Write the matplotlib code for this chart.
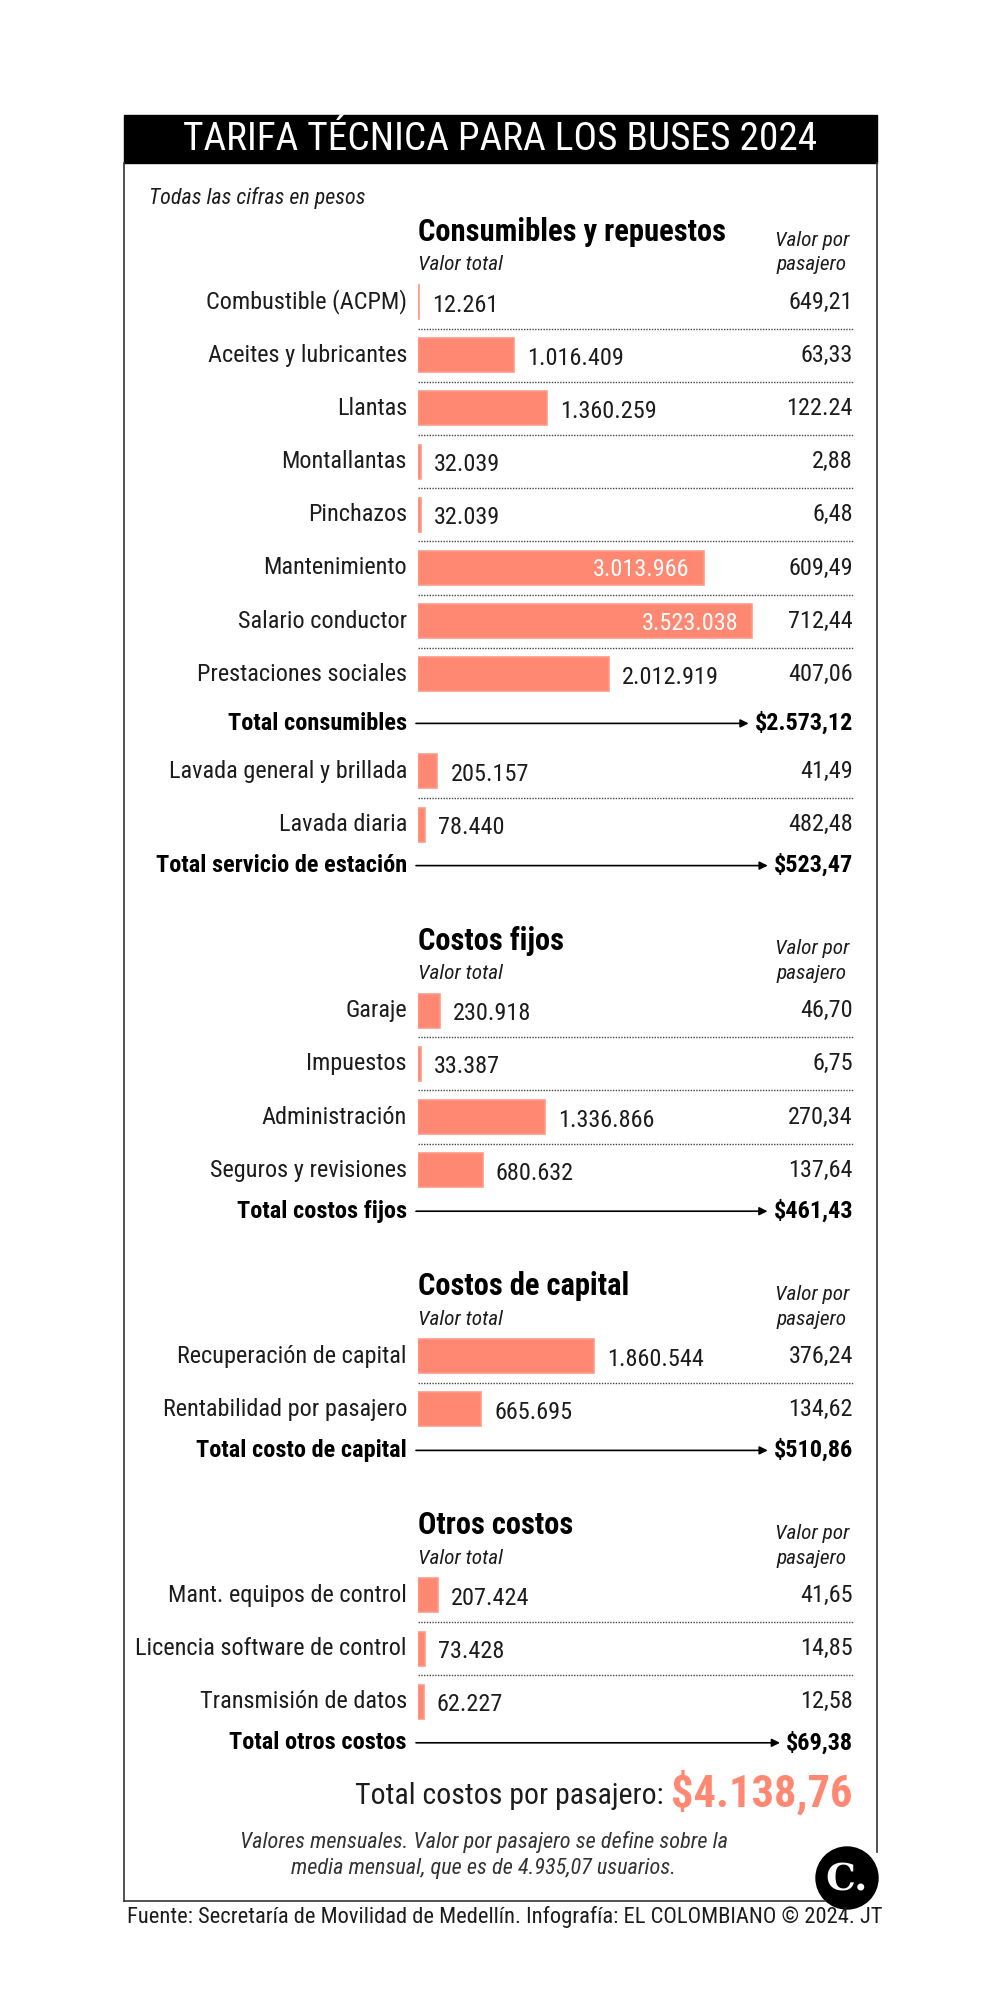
import matplotlib
matplotlib.use("Agg")
import matplotlib.pyplot as plt
from matplotlib import font_manager as fm
from matplotlib.patches import Rectangle, Circle

# pick a condensed face if there is one
names = {f.name for f in fm.fontManager.ttflist}
FONT = "DejaVu Sans"
for cand in ["Roboto Condensed", "Liberation Sans Narrow", "Roboto"]:
    if cand in names:
        FONT = cand
        break
plt.rcParams["font.family"] = [FONT, "DejaVu Sans"]

SALMON = "#FF8872"
INK = "#1c1c1c"

# data
title = "TARIFA TÉCNICA PARA LOS BUSES 2024"

cons_labels = ["Combustible (ACPM)", "Aceites y lubricantes", "Llantas", "Montallantas",
               "Pinchazos", "Mantenimiento", "Salario conductor", "Prestaciones sociales"]
cons_values = [12261, 1016409, 1360259, 32039, 32039, 3013966, 3523038, 2012919]
cons_pp = ["649,21", "63,33", "122.24", "2,88", "6,48", "609,49", "712,44", "407,06"]

est_labels = ["Lavada general y brillada", "Lavada diaria"]
est_values = [205157, 78440]
est_pp = ["41,49", "482,48"]

fij_labels = ["Garaje", "Impuestos", "Administración", "Seguros y revisiones"]
fij_values = [230918, 33387, 1336866, 680632]
fij_pp = ["46,70", "6,75", "270,34", "137,64"]

cap_labels = ["Recuperación de capital", "Rentabilidad por pasajero"]
cap_values = [1860544, 665695]
cap_pp = ["376,24", "134,62"]

otr_labels = ["Mant. equipos de control", "Licencia software de control", "Transmisión de datos"]
otr_values = [207424, 73428, 62227]
otr_pp = ["41,65", "14,85", "12,58"]

blocks = [
    ("Consumibles y repuestos", cons_labels, cons_values, cons_pp, "Total consumibles", "$2.573,12"),
    (None, est_labels, est_values, est_pp, "Total servicio de estación", "$523,47"),
    ("Costos fijos", fij_labels, fij_values, fij_pp, "Total costos fijos", "$461,43"),
    ("Costos de capital", cap_labels, cap_values, cap_pp, "Total costo de capital", "$510,86"),
    ("Otros costos", otr_labels, otr_values, otr_pp, "Total otros costos", "$69,38"),
]
total_gap = [49, 41, 41, 41, 41]
grand_total = "$4.138,76"

fig = plt.figure(figsize=(10.02, 20), dpi=100)
ax = fig.add_axes([0, 0, 1, 1])
ax.set_xlim(0, 1002)
ax.set_ylim(2000, 0)
ax.axis("off")

# bar axes shares pixel rows, x in pesos
BX0, BX1 = 418, 878
bax = fig.add_axes([BX0 / 1002, 0, (BX1 - BX0) / 1002, 1])
bax.set_xlim(0, 4.852e6)
bax.set_ylim(2000, 0)
bax.axis("off")
bax.patch.set_alpha(0)

# frame and title bar
ax.add_patch(Rectangle((124, 115), 753, 48, color="black"))
ax.text(500, 140, title, color="white", fontsize=28.4, ha="center", va="center")
ax.plot([124, 124], [163, 1901], color="#333", lw=1.2)
ax.plot([877, 877], [163, 1852], color="#333", lw=1.2)
ax.plot([124, 825], [1901, 1901], color="#333", lw=1.2)

ax.text(149, 198, "Todas las cifras en pesos", fontsize=15.8, style="italic",
        ha="left", va="center", color=INK)

LX = 407      # right edge of row labels
RX = 853      # right edge of per-passenger values
PITCH = 53.2
FS = 17.5

fig.canvas.draw()
renderer = fig.canvas.get_renderer()

cur = 157
for bi, (head, labels, values, pp, tlabel, tvalue) in enumerate(blocks):
    if head is not None:
        hy = cur + 75
        ax.text(418, hy, head, fontsize=22, weight="bold", ha="left", va="center", color="black")
        ax.text(418, hy + 33, "Valor total", fontsize=15.3, style="italic", ha="left",
                va="center", color=INK)
        ax.text(812, hy + 8, "Valor por", fontsize=15.3, style="italic", ha="center",
                va="center", color=INK)
        ax.text(812, hy + 33, "pasajero", fontsize=15.3, style="italic", ha="center",
                va="center", color=INK)
        y0 = hy + 70
    else:
        y0 = cur + 48
    ys = [y0 + PITCH * i for i in range(len(labels))]
    bax.barh(ys, values, height=34, color=SALMON, edgecolor="#FF9A87", lw=1.2)
    for i, (lab, v, p, y) in enumerate(zip(labels, values, pp, ys)):
        ax.text(LX, y, lab, fontsize=FS, ha="right", va="center", color=INK)
        txt = f"{v:,}".replace(",", ".")
        if v > 2.5e6:
            bax.annotate(txt, (v, y + 2), xytext=(-14, 0), textcoords="offset pixels",
                         ha="right", va="center", fontsize=FS, color="white")
        else:
            bax.annotate(txt, (v, y + 3), xytext=(13, 0), textcoords="offset pixels",
                         ha="left", va="center", fontsize=FS, color=INK)
        ax.text(RX, y, p, fontsize=FS, ha="right", va="center", color=INK)
        if i < len(labels) - 1:
            ax.plot([418, 854], [y + PITCH / 2, y + PITCH / 2], color="#444",
                    lw=1.0, ls=(0, (1, 1)))
    ty = ys[-1] + total_gap[bi]
    ax.text(LX, ty, tlabel, fontsize=FS, weight="bold", ha="right", va="center", color="black")
    tv = ax.text(RX, ty, tvalue, fontsize=FS, weight="bold", ha="right", va="center",
                 color="black")
    x_end = tv.get_window_extent(renderer).x0 - 6
    ax.annotate("", xy=(x_end, ty), xytext=(416, ty),
                arrowprops=dict(arrowstyle="-|>", color="black", lw=1.2,
                                mutation_scale=12, shrinkA=0, shrinkB=0))
    cur = ty

# grand total
gt = ax.text(RX, 1793, grand_total, fontsize=32, weight="bold", ha="right",
             va="center", color=SALMON)
gx = gt.get_window_extent(renderer).x0 - 8
ax.text(gx, 1796, "Total costos por pasajero:", fontsize=21.5, ha="right",
        va="center", color=INK)

ax.text(484, 1855, "Valores mensuales. Valor por pasajero se define sobre la\n"
        "media mensual, que es de 4.935,07 usuarios.", fontsize=16, style="italic",
        ha="center", va="center", color="#333", linespacing=1.3)

# logo
ax.add_patch(Circle((847, 1878), 31, color="black"))
ax.text(847, 1880, "C.", fontsize=27, weight="bold", family="DejaVu Serif",
        color="white", ha="center", va="center")

ax.text(127, 1917, "Fuente: Secretaría de Movilidad de Medellín. Infografía: EL COLOMBIANO © 2024. JT",
        fontsize=16.2, ha="left", va="center", color=INK)

fig.savefig("out.png", dpi=100)
